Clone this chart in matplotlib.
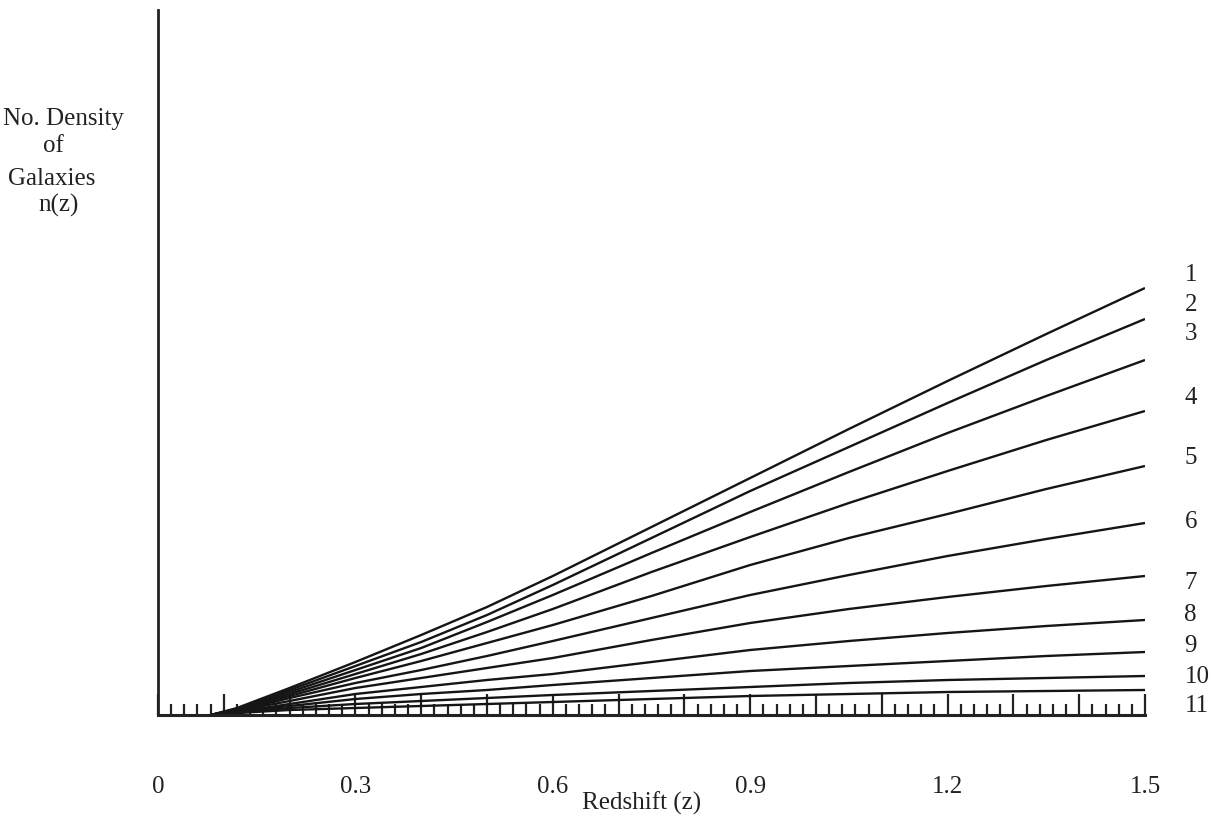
import matplotlib
matplotlib.use("Agg")
import matplotlib.pyplot as plt
from matplotlib.ticker import MultipleLocator, FuncFormatter

# Redshift sample points
z = [0.08, 0.12, 0.2, 0.3, 0.4, 0.5, 0.6, 0.75, 0.9, 1.05, 1.2, 1.35, 1.5]

# n(z) for the eleven models (arbitrary units)
n1 = [0, 7, 27, 53, 80, 108, 139, 188, 237, 286, 334, 381, 427]
n2 = [0, 6, 25, 49, 73, 100, 130, 177, 224, 268, 312, 355, 396]
n3 = [0, 6, 23, 45, 67, 93, 120, 162, 203, 243, 282, 319, 355]
n4 = [0, 5, 21, 41, 61, 83, 106, 143, 178, 212, 244, 275, 304]
n5 = [0, 5, 19, 37, 54, 72, 90, 119, 150, 177, 201, 226, 249]
n6 = [0, 4, 17, 32, 45, 59, 74, 97, 120, 140, 159, 176, 192]
n7 = [0, 4, 14, 27, 37, 47, 57, 75, 92, 106, 118, 129, 139]
n8 = [0, 3, 11, 21, 28, 35, 41, 53, 65, 74, 82, 89, 95]
n9 = [0, 3, 9, 16, 21, 25, 30, 37, 44, 49, 54, 59, 63]
n10 = [0, 2, 7, 11, 14, 17, 20, 24, 28, 32, 35, 37, 39]
n11 = [0, 2, 5, 7, 9, 11, 13, 16, 19, 21, 23, 24, 25]

curves = [n1, n2, n3, n4, n5, n6, n7, n8, n9, n10, n11]
curve_labels = ["1", "2", "3", "4", "5", "6", "7", "8", "9", "10", "11"]
label_y = [440, 410, 381, 317, 257, 193, 132, 100, 69, 38, 9]

x_ticklabels = ["0", "0.3", "0.6", "0.9", "1.2", "1.5"]

W, H = 1220, 816
fig = plt.figure(figsize=(W / 100, H / 100), dpi=100)
plt.rcParams["font.family"] = ["Liberation Serif", "DejaVu Serif"]

ax = fig.add_axes([158 / W, 101 / H, 987 / W, 705 / H])
ax.set_xlim(0, 1.5)
ax.set_ylim(0, 705)

for n in curves:
    ax.plot(z, n, color="#151515", lw=1.7, solid_capstyle="butt",
            solid_joinstyle="round")

for lab, yy in zip(curve_labels, label_y):
    ax.text(1.56, yy, lab, fontsize=18, va="center", ha="left",
            color="#222222", clip_on=False)

for s in ("top", "right"):
    ax.spines[s].set_visible(False)
ax.spines["left"].set_linewidth(2.0)
ax.spines["bottom"].set_linewidth(2.2)
ax.spines["left"].set_color("#222222")
ax.spines["bottom"].set_color("#222222")

ax.xaxis.set_major_locator(MultipleLocator(0.1))
ax.xaxis.set_minor_locator(MultipleLocator(0.02))
labelled = {round(float(v) * 10): t for v, t in
            zip([0, 0.3, 0.6, 0.9, 1.2, 1.5], x_ticklabels)}
ax.xaxis.set_major_formatter(
    FuncFormatter(lambda v, p: labelled.get(round(v * 10), "")))
ax.tick_params(axis="x", which="major", direction="in", length=15,
               width=1.6, color="#222222", pad=44, labelsize=18,
               labelcolor="#222222")
ax.tick_params(axis="x", which="minor", direction="in", length=8,
               width=1.6, color="#222222")
ax.set_yticks([])

fig.text(642 / W, 1 - 803 / H, "Redshift (z)", fontsize=18,
         ha="center", va="center", color="#222222")

ylab = [("No. Density", 3, 125), ("of", 43, 152), ("Galaxies", 8, 185),
        ("n(z)", 38, 212)]
for t, px, py in ylab:
    fig.text(px / W, 1 - py / H, t, fontsize=18, ha="left",
             va="baseline", color="#222222")

fig.savefig("out.png", dpi=100)
